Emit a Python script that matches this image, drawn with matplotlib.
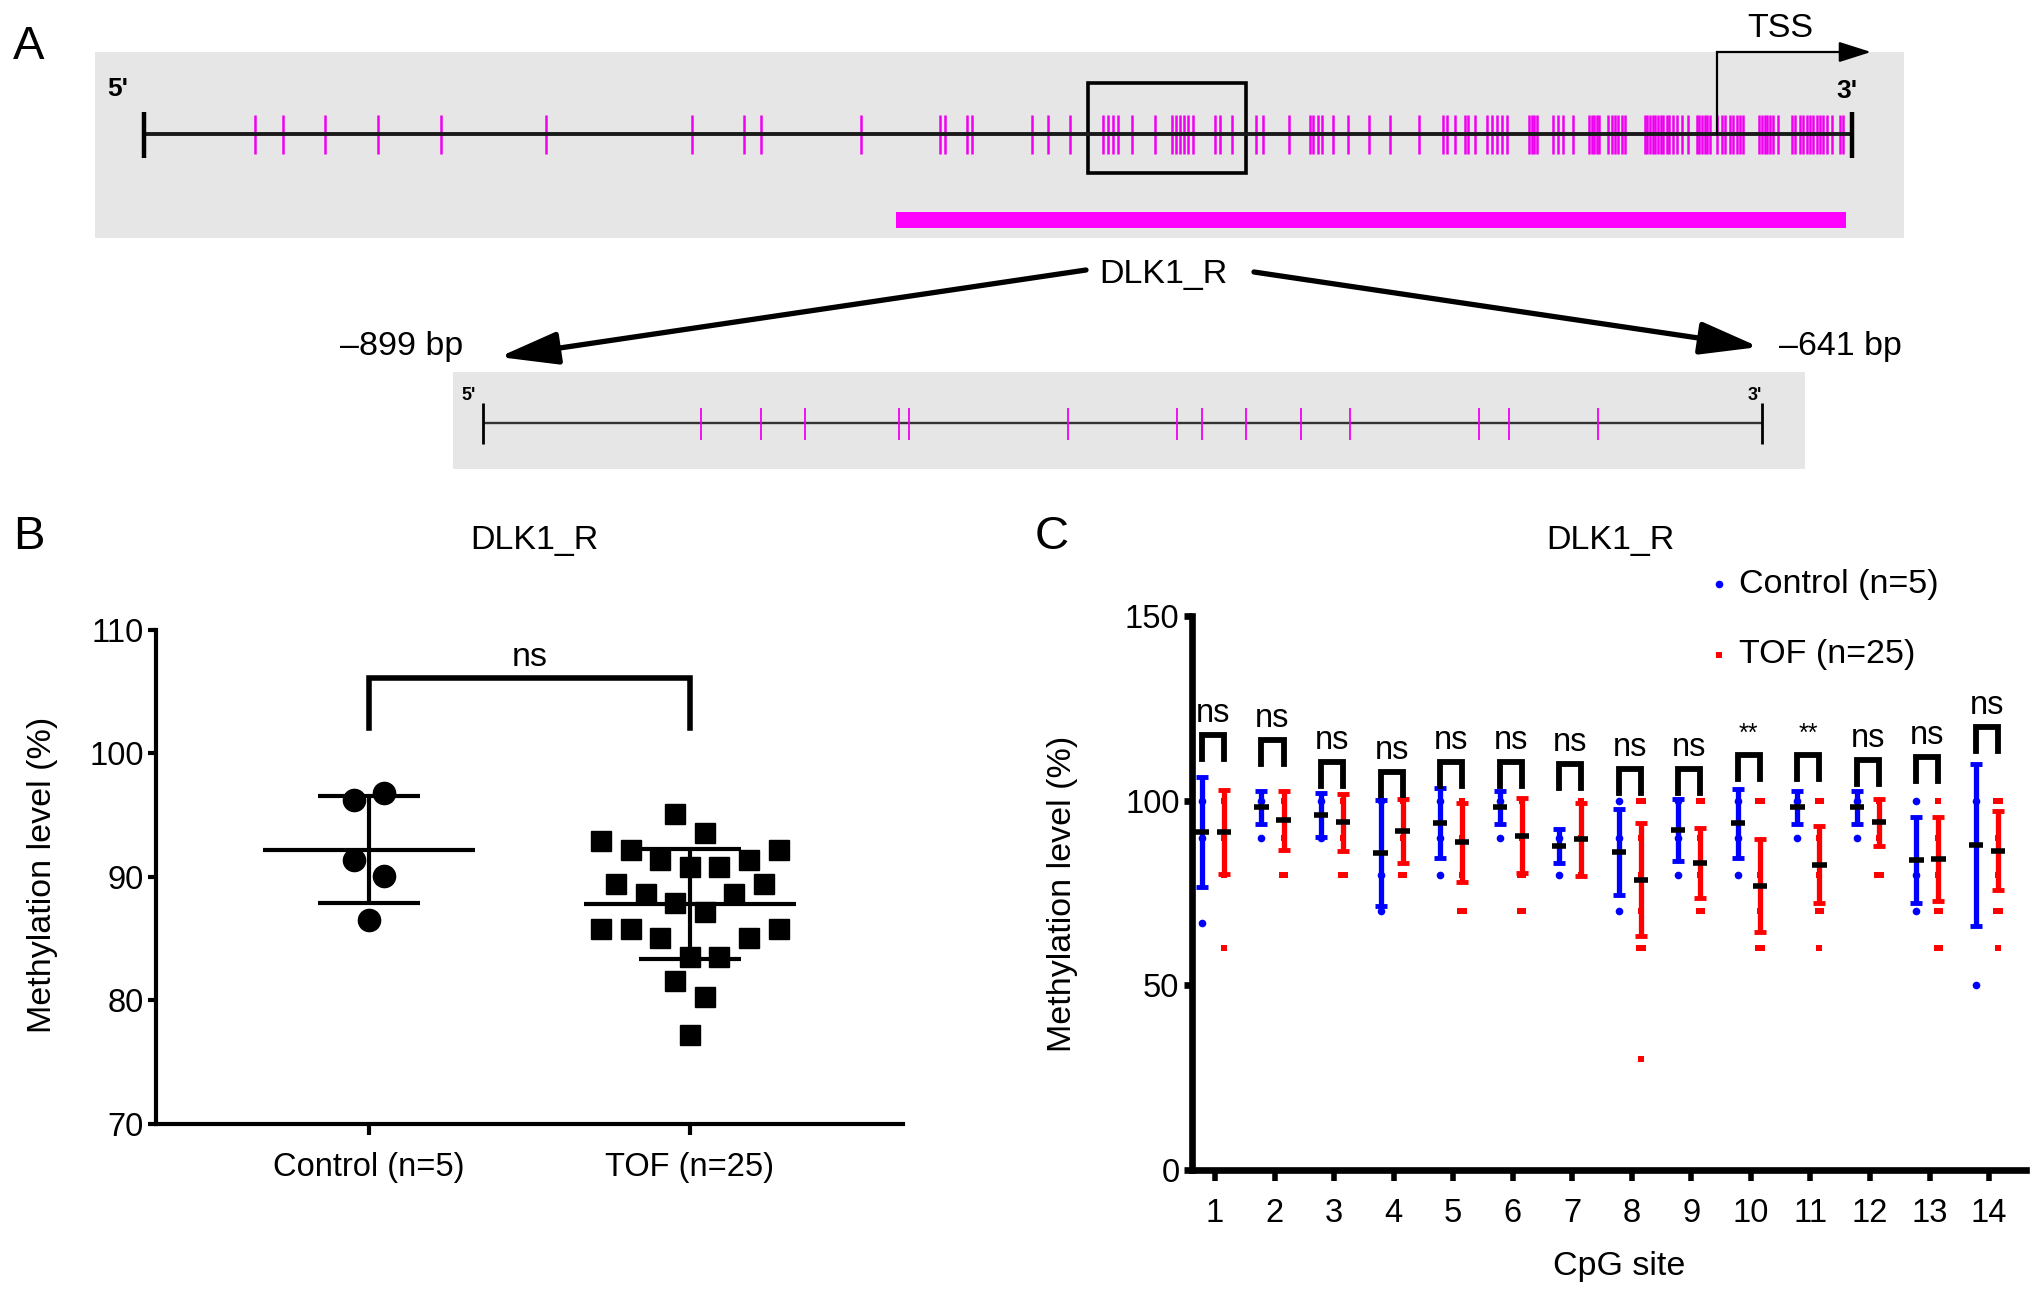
import numpy as np
import matplotlib.pyplot as plt
from matplotlib.patches import Rectangle

W, H = 2032, 1298
NARROW = ['Liberation Sans Narrow', 'Liberation Sans', 'DejaVu Sans']
REG = ['Liberation Sans', 'DejaVu Sans']
MAG = '#f000f0'
GRAY = '#e6e6e6'

# ---------------- panel A data ----------------
# CpG positions along the full promoter track (track units, 0 = 5' end)
cpg_full = [111, 139, 181, 234, 297, 402, 548, 600, 617, 717, 796, 801, 823, 828,
            888, 904, 926, 959, 964, 969, 974, 988, 1011, 1028, 1032, 1036, 1040,
            1044, 1049, 1071, 1076, 1088, 1112, 1119, 1145, 1166, 1169, 1174, 1178,
            1189, 1204, 1225, 1246, 1275, 1299, 1303, 1311, 1321, 1324, 1331, 1343,
            1348, 1353, 1358, 1363, 1385, 1388, 1390, 1393, 1409, 1414, 1419, 1429,
            1445, 1448, 1450, 1453, 1455, 1464, 1468, 1471, 1474, 1478, 1481, 1501,
            1503, 1506, 1509, 1511, 1514, 1517, 1519, 1523, 1525, 1529, 1533, 1538,
            1544, 1553, 1555, 1558, 1561, 1563, 1566, 1573, 1578, 1581, 1586, 1589,
            1593, 1596, 1599, 1615, 1618, 1621, 1623, 1626, 1629, 1634, 1648, 1651,
            1656, 1659, 1663, 1666, 1669, 1673, 1676, 1679, 1683, 1688, 1696, 1699]
track_len = 1708
tss_pos = 1573
zoom_window = (944, 1102)
amplicon = (752, 1702)

# CpG sites in the DLK1_R region (bp relative to TSS)
region_start, region_end = -899, -641
cpg_region = [-855, -843, -834, -815, -813, -781, -759, -754, -745, -734, -724,
              -698, -692, -674]

# ---------------- panel B data ----------------
groups = ['Control (n=5)', 'TOF (n=25)']
ctrl_vals = [96.2, 96.8, 91.4, 90.1, 86.5]
ctrl_slot = [-1, 1, -1, 1, 0]
tof_vals = [95.1, 93.6, 92.9, 92.2, 92.2, 91.4, 91.4, 90.8, 90.8, 89.4, 89.4, 88.6,
            88.6, 87.9, 87.2, 85.8, 85.8, 85.8, 85.1, 85.1, 83.5, 83.5, 81.6, 80.3, 77.2]
tof_slot = [-1, 1, -6, 6, -4, -2, 4, 0, 2, -5, 5, -3, 3, -1, 1, -6, -4, 6, -2, 4,
            0, 2, -1, 1, 0]

# ---------------- panel C data ----------------
sites = list(range(1, 15))
ctrl_mean = [91.5, 98.2, 96.1, 85.9, 93.9, 98.2, 87.7, 86.1, 92.0, 93.9, 98.2, 98.2, 83.9, 88.0]
ctrl_sd = [14.8, 4.5, 6.0, 14.3, 9.5, 4.5, 4.7, 11.7, 8.4, 9.3, 4.5, 4.5, 11.6, 21.8]
tof_mean = [91.5, 94.7, 94.1, 91.8, 88.8, 90.5, 89.5, 78.6, 83.2, 77.0, 82.7, 94.1, 84.3, 86.4]
tof_sd = [11.3, 8.0, 7.7, 8.6, 10.7, 10.1, 10.0, 15.3, 9.5, 12.5, 10.4, 6.3, 11.4, 10.7]
ctrl_pts = [[100, 90, 67], [100, 90], [100, 90], [100, 80, 70], [100, 90, 80],
            [100, 90], [90, 80], [100, 90, 70], [100, 90, 80], [100, 90, 80],
            [100, 90], [100, 90], [100, 80, 70], [100, 50]]
tof_pts = [[100, 90, 80, 60], [100, 90, 80, 80], [100, 90, 80, 80], [100, 90, 80, 80],
           [100, 90, 80, 70, 70], [100, 90, 80, 80, 70, 70], [100, 90, 80],
           [100, 100, 90, 80, 70, 60, 60, 30], [100, 100, 90, 80, 70, 70],
           [100, 100, 80, 70, 60, 60], [100, 100, 90, 80, 70, 70, 60],
           [100, 90, 80, 80], [100, 90, 80, 70, 70, 60, 60], [100, 100, 90, 80, 70, 70, 60]]
bracket_top = [117.7, 116.4, 110.5, 107.7, 110.5, 110.5, 110.0, 108.6, 108.6, 112.3,
               112.3, 110.9, 111.8, 120.0]
sig = ['ns'] * 9 + ['**', '**'] + ['ns'] * 3

FS = 24.5     # general label size
FT = 23.5     # tick labels


def box(x0, y0, x1, y1):
    return [x0 / W, 1 - y1 / H, (x1 - x0) / W, (y1 - y0) / H]


def bare(ax, color=GRAY):
    ax.set_facecolor(color)
    for s in ax.spines.values():
        s.set_visible(False)
    ax.set_xticks([])
    ax.set_yticks([])


fig = plt.figure(figsize=(W / 100, H / 100), dpi=100)

# ---- A: full promoter track
axT = fig.add_axes(box(95, 52, 1904, 238))
bare(axT)
axT.set_xlim(-49, 1760)
axT.set_ylim(0, 1)
axT.vlines(cpg_full, 0.452, 0.661, color=MAG, lw=1.8)
axT.hlines(0.559, 0, track_len, color='#1a1a1a', lw=2.8)
axT.vlines([0, track_len], 0.43, 0.68, color='k', lw=3.2)
axT.add_patch(Rectangle((zoom_window[0], 0.35), zoom_window[1] - zoom_window[0], 0.483,
                        fill=False, lw=2.6, ec='k'))
axT.add_patch(Rectangle((amplicon[0], 0.054), amplicon[1] - amplicon[0], 0.086,
                        color='#ff00ff', lw=0))
axT.plot([tss_pos, tss_pos], [0.559, 1.0], color='k', lw=1.6, clip_on=False)
axT.annotate('', xy=(tss_pos + 154, 1.0), xytext=(tss_pos, 1.0), xycoords='data',
             arrowprops=dict(arrowstyle='-|>,head_length=1.1,head_width=0.35', lw=1.6,
                             color='k', shrinkA=0, shrinkB=0, mutation_scale=18),
             annotation_clip=False)
axT.text(tss_pos + 63, 1.129, 'TSS', ha='center', va='center', fontsize=FS,
         family=NARROW, clip_on=False)
axT.text(-26, 0.80, "5'", ha='center', va='center', fontsize=19, fontweight='bold',
         family=NARROW)
axT.text(track_len - 5, 0.79, "3'", ha='center', va='center', fontsize=19,
         fontweight='bold', family=NARROW)

# ---- A: zoomed DLK1_R region
axZ = fig.add_axes(box(453, 372, 1805, 469))
bare(axZ)
axZ.set_xlim(-905.05, -632.3)
axZ.set_ylim(0, 1)
axZ.hlines(0.474, region_start, region_end, color='#333333', lw=1.7)
axZ.vlines(cpg_region, 0.30, 0.63, color=MAG, lw=1.3)
axZ.vlines([region_start, region_end], 0.26, 0.68, color='k', lw=2)
axZ.text(region_start - 3, 0.76, "5'", ha='center', va='center', fontsize=13,
         fontweight='bold', family=NARROW)
axZ.text(region_end - 1.5, 0.76, "3'", ha='center', va='center', fontsize=13,
         fontweight='bold', family=NARROW)

# ---- B
axB = fig.add_axes(box(156, 630, 903, 1124))
axB.set_xlim(-0.664, 1.664)
axB.set_ylim(70, 110)
for s in ['top', 'right']:
    axB.spines[s].set_visible(False)
for s in ['left', 'bottom']:
    axB.spines[s].set_linewidth(3)
axB.set_yticks([70, 80, 90, 100, 110])
axB.set_xticks([0, 1])
axB.set_xticklabels(groups)
axB.tick_params(axis='y', length=6, width=3, labelsize=FT, pad=3)
axB.tick_params(axis='x', length=8, width=3, labelsize=FT, pad=12)
for lab in axB.get_xticklabels() + axB.get_yticklabels():
    lab.set_family(NARROW)
step = 0.046
axB.plot(0 + np.array(ctrl_slot) * step, ctrl_vals, 'o', color='k', ms=16, zorder=3)
axB.plot(1 + np.array(tof_slot) * step, tof_vals, 's', color='k', ms=14, zorder=3)
for g, vals in enumerate([ctrl_vals, tof_vals]):
    m = np.mean(vals)
    sd = np.std(vals, ddof=1)
    axB.hlines(m, g - 0.33, g + 0.33, color='k', lw=3, zorder=4)
    axB.vlines(g, m - sd, m + sd, color='k', lw=3, zorder=4)
    axB.hlines([m - sd, m + sd], g - 0.16, g + 0.16, color='k', lw=3, zorder=4)
axB.plot([0, 0, 1, 1], [102.1, 106.1, 106.1, 102.1], color='k', lw=4,
         solid_joinstyle='miter')
axB.text(0.5, 107.8, 'ns', ha='center', va='center', fontsize=FS, family=NARROW)

# ---- C
axC = fig.add_axes(box(1192, 616, 2026, 1170))
axC.set_xlim(0.613, 14.62)
axC.set_ylim(0, 150)
for s in ['top', 'right']:
    axC.spines[s].set_visible(False)
for s in ['left', 'bottom']:
    axC.spines[s].set_linewidth(4.8)
axC.set_yticks([0, 50, 100, 150])
axC.set_xticks(sites)
axC.tick_params(axis='y', length=6, width=4.8, labelsize=FT, pad=3)
axC.tick_params(axis='x', length=8, width=4, labelsize=FT, pad=12)
for lab in axC.get_xticklabels() + axC.get_yticklabels():
    lab.set_family(NARROW)

dx_c, dx_t, dup = -0.22, 0.15, 0.06
for i, s in enumerate(sites):
    xb, xr = s + dx_c, s + dx_t
    for x, pts, col, mk, ms in [(xb, ctrl_pts[i], 'blue', 'o', 5.5),
                                (xr, tof_pts[i], 'red', 's', 5)]:
        vals, counts = np.unique(pts, return_counts=True)
        for v, c in zip(vals, counts):
            offs = (np.arange(c) - (c - 1) / 2) * dup
            axC.plot(x + offs, [v] * c, mk, color=col, ms=ms, mew=0, zorder=3)
    axC.errorbar(xb, ctrl_mean[i], yerr=ctrl_sd[i], color='blue', lw=3.8, capsize=4.5,
                 capthick=3.5, zorder=2)
    axC.errorbar(xr, tof_mean[i], yerr=tof_sd[i], color='red', lw=3.8, capsize=4.5,
                 capthick=3.5, zorder=2)
    axC.hlines([ctrl_mean[i]], xb - 0.12, xb + 0.12, color='k', lw=4, zorder=4)
    axC.hlines([tof_mean[i]], xr - 0.12, xr + 0.12, color='k', lw=4, zorder=4)
    top = bracket_top[i]
    axC.plot([xb, xb, xr, xr], [top - 6.5, top, top, top - 6.5], color='k', lw=4.2,
             solid_joinstyle='miter')
    if sig[i] == 'ns':
        axC.text((xb + xr) / 2, top + 5.8, 'ns', ha='center', va='center',
                 fontsize=FT, family=NARROW)
    else:
        axC.text((xb + xr) / 2, top + 5.8, sig[i], ha='center', va='center',
                 fontsize=18, family=NARROW)

# ---- canvas for labels and arrows (pixel coordinates)
cv = fig.add_axes([0, 0, 1, 1], zorder=10)
cv.set_xlim(0, W)
cv.set_ylim(H, 0)
cv.axis('off')
cv.patch.set_visible(False)

for txt, x, y in [('A', 29, 47), ('B', 29, 537), ('C', 1052, 537)]:
    cv.text(x, y, txt, ha='center', va='center', fontsize=34, family=REG)

cv.text(1163, 274, 'DLK1_R', ha='center', va='center', fontsize=FS, family=NARROW)
cv.text(402, 347, '\u2013899 bp', ha='center', va='center', fontsize=FS, family=NARROW)
cv.text(1840, 347, '\u2013641 bp', ha='center', va='center', fontsize=FS, family=NARROW)
arrow = dict(arrowstyle='-|>,head_length=1.8,head_width=0.5', lw=3.8, color='k',
             shrinkA=0, shrinkB=0, mutation_scale=20)
cv.annotate('', xy=(499, 357), xytext=(1086, 270), arrowprops=arrow)
cv.annotate('', xy=(1759, 347), xytext=(1254, 272), arrowprops=arrow)

cv.text(534, 541, 'DLK1_R', ha='center', va='center', fontsize=FS, family=NARROW)
cv.text(1610, 541, 'DLK1_R', ha='center', va='center', fontsize=FS, family=NARROW)
cv.text(43, 875, 'Methylation level (%)', ha='center', va='center', rotation=90,
        fontsize=FS, family=REG)
cv.text(1062, 894, 'Methylation level (%)', ha='center', va='center', rotation=90,
        fontsize=FS, family=REG)
cv.text(1619, 1266, 'CpG site', ha='center', va='center', fontsize=FS, family=NARROW)

cv.plot([1719], [584], 'o', color='blue', ms=5.5, mew=0)
cv.plot([1719], [655], 's', color='red', ms=5, mew=0)
cv.text(1739, 584, 'Control (n=5)', ha='left', va='center', fontsize=FS, family=NARROW)
cv.text(1739, 655, 'TOF (n=25)', ha='left', va='center', fontsize=FS, family=NARROW)

fig.savefig('out.png', dpi=100, facecolor='white')
